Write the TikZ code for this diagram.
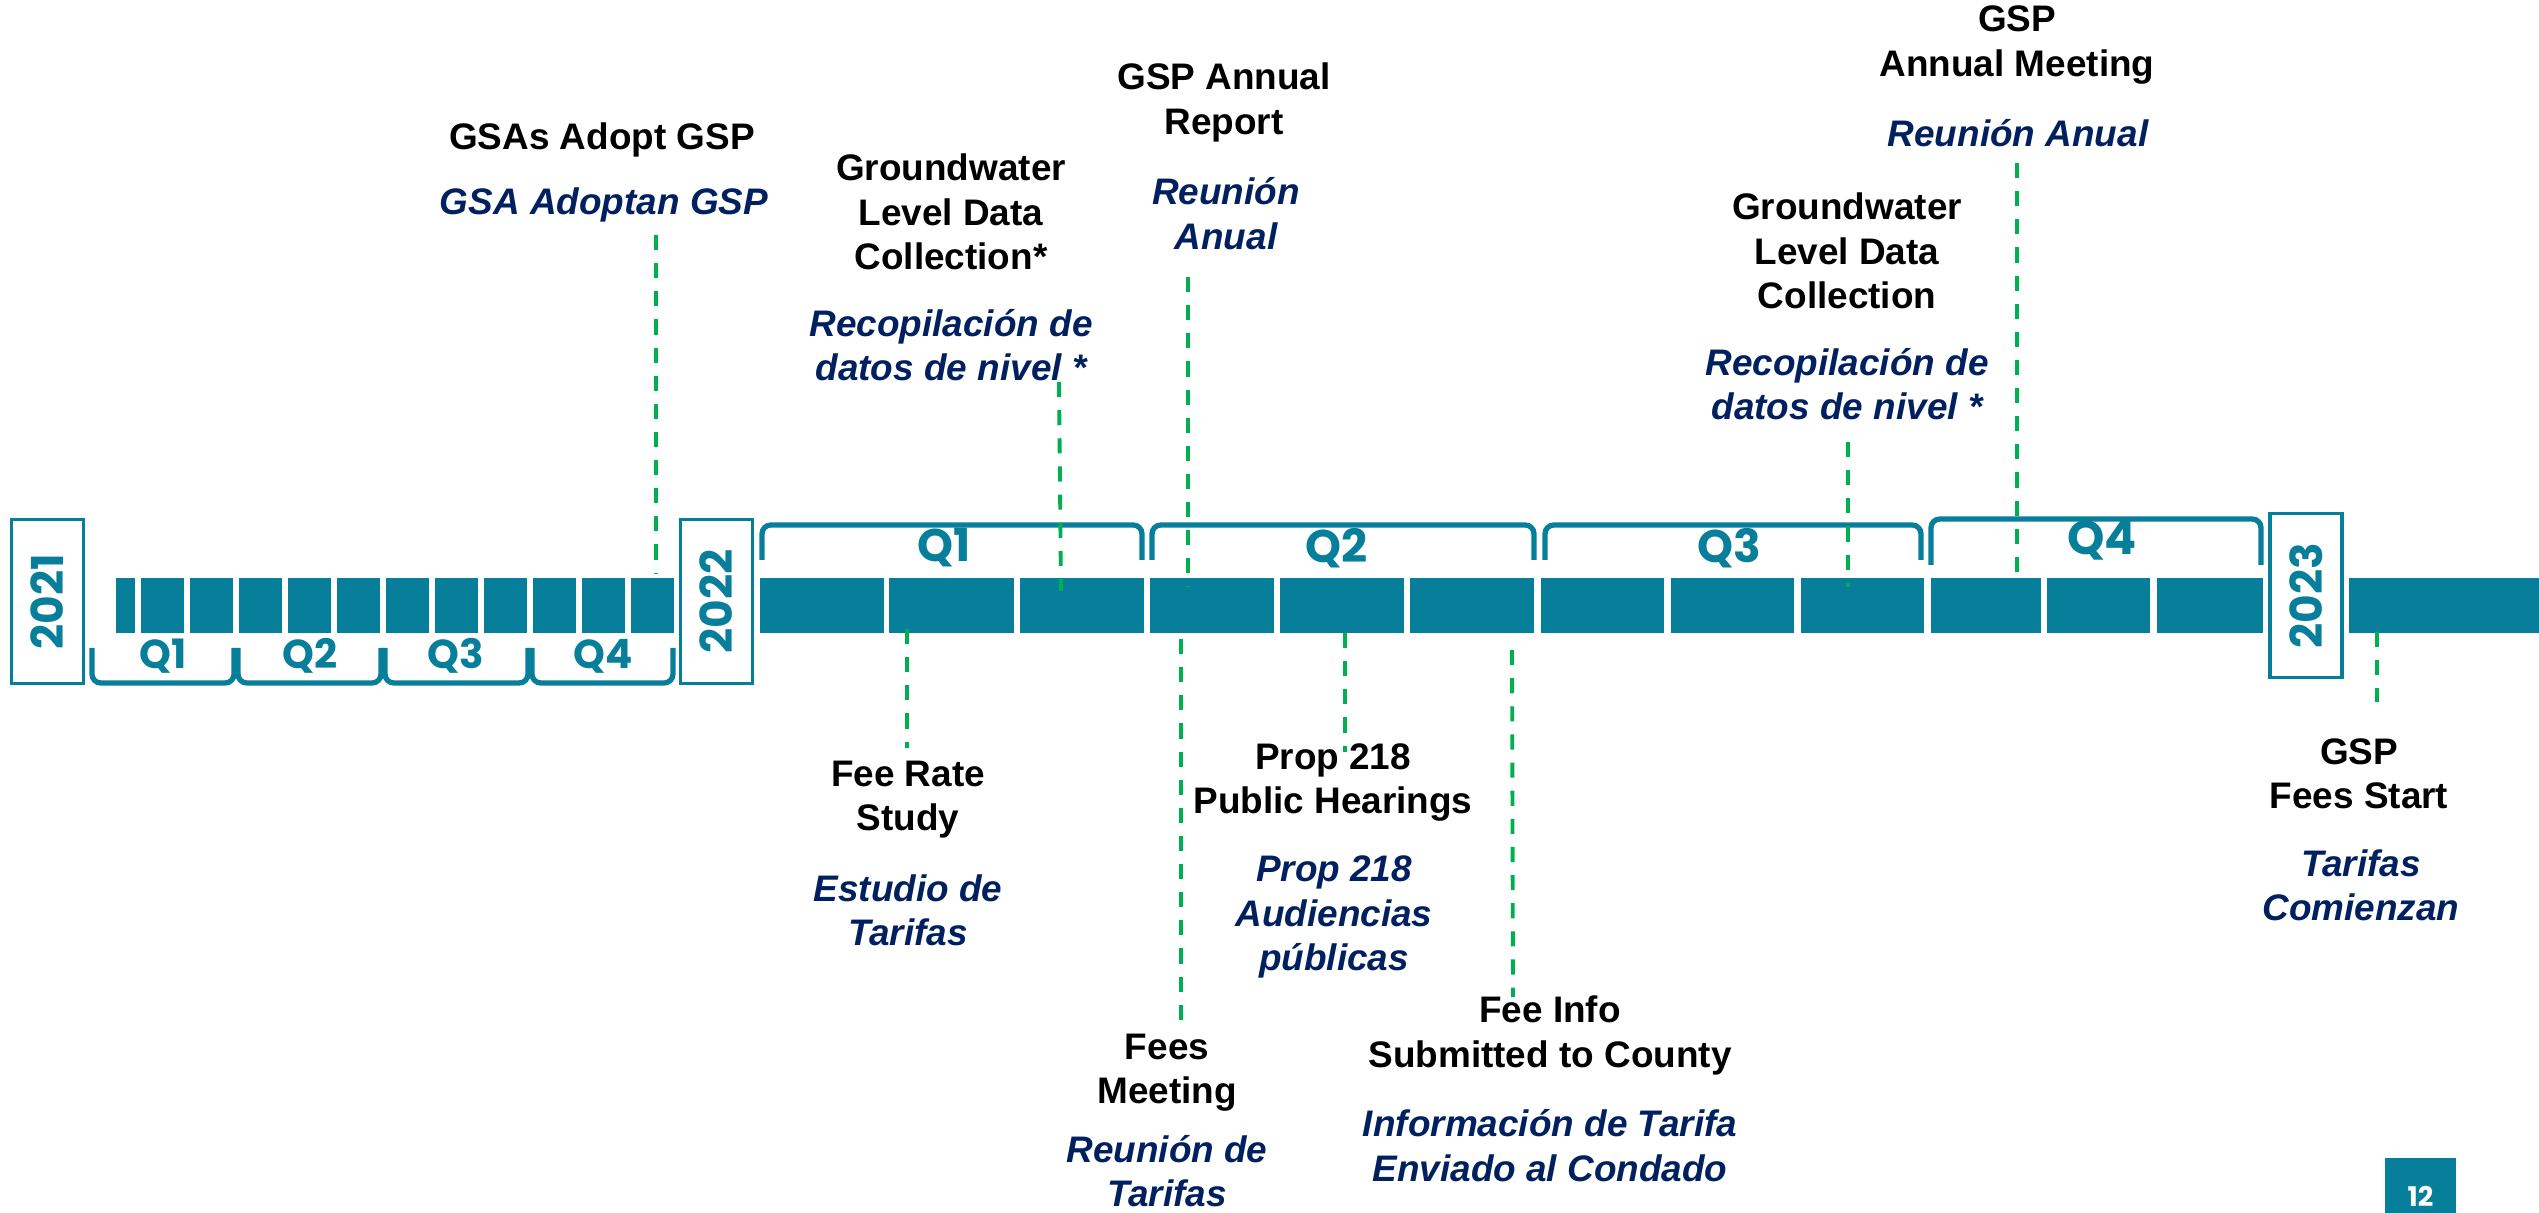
\documentclass[tikz,border=0pt]{standalone}
\usepackage{fontspec}
\setmainfont{Liberation Sans}
\newfontfamily\geofont{Poppins}

\definecolor{tealbar}{RGB}{7,127,155}
\definecolor{navytext}{RGB}{0,32,96}
\definecolor{greentick}{RGB}{0,176,80}

\tikzset{
  bar/.style={fill=tealbar},
  yearbox/.style={draw=tealbar, line width=1pt, fill=white, rotate=90,
    minimum width=1.64cm, minimum height=0.72cm, inner sep=0,
    text=tealbar, font=\geofont\bfseries\fontsize{12.5}{14}\selectfont},
  brace/.style={draw=tealbar, line width=1.5pt, rounded corners=2.5pt},
  quarter/.style={text=tealbar, inner sep=0, font=\geofont\bfseries\fontsize{11.5}{13}\selectfont},
  bigquarter/.style={quarter, font=\geofont\bfseries\fontsize{13}{15}\selectfont},
  eng/.style={align=center, inner sep=0, font=\bfseries\fontsize{10.5}{12.6}\selectfont},
  esp/.style={eng, text=navytext, font=\bfseries\itshape\fontsize{10.5}{12.6}\selectfont},
  tick/.style={draw=greentick, line width=1.1pt, dash pattern=on 4.3pt off 3.7pt},
  pagebox/.style={fill=tealbar, text=white, minimum width=0.71cm, minimum height=0.76cm,
    inner sep=0, font=\geofont\bfseries\fontsize{7.7}{9}\selectfont}
}

\begin{document}
\begin{tikzpicture}[x=0.01cm,y=-0.01cm]
  \clip (0,0) rectangle (2539,1213);

  % months of 2021
  \fill[bar] (116,578) rectangle (135,633);
  \foreach \a in {141,190,...,631}
    \fill[bar] (\a,578) rectangle ++(43,55);

  % months of 2022 and on
  \foreach \a/\b in {760/884, 889/1014, 1020/1144, 1150/1274, 1280/1404, 1410/1534,
                     1541/1664, 1671/1794, 1801/1924, 1931/2041, 2047/2150, 2157/2539}
    \fill[bar] (\a,578) rectangle (\b,633);
  \fill[white] (2263,578) rectangle (2349,633);

  % years
  \node[yearbox] (y2021) at (47.5,601.5)  {2021};
  \node[yearbox] (y2022) at (716.5,601.5) {2022};
  \node[yearbox] (y2023) at (2306,595.5)  {2023};

  % quarters of 2021
  \draw[brace] (92,648)  -- (92,683)  -- (234,683) -- (234,648);
  \draw[brace] (238,648) -- (238,683) -- (381,683) -- (381,648);
  \draw[brace] (385,648) -- (385,683) -- (528,683) -- (528,648);
  \draw[brace] (532,648) -- (532,683) -- (673,683) -- (673,648);
  \node[quarter] (q1a) at (163,656) {Q1};
  \node[quarter] (q2a) at (310,656) {Q2};
  \node[quarter] (q3a) at (456,656) {Q3};
  \node[quarter] (q4a) at (603,656) {Q4};

  % quarters of 2022
  \draw[brace] (762,560)  -- (762,525)  -- (1142,525) -- (1142,560);
  \draw[brace] (1152,560) -- (1152,525) -- (1534,525) -- (1534,560);
  \draw[brace] (1545,560) -- (1545,525) -- (1921,525) -- (1921,560);
  \draw[brace] (1931,565) -- (1931,519) -- (2261,519) -- (2261,565);
  \node[bigquarter] (q1b) at (944,548)  {Q1};
  \node[bigquarter] (q2b) at (1337,548) {Q2};
  \node[bigquarter] (q3b) at (1729,548) {Q3};
  \node[bigquarter, scale=1.04] (q4b) at (2102,540) {Q4};

  % events above the line
  \node[eng] (adopt)  at (602,140) {GSAs Adopt GSP};
  \node[esp] (adoptS) at (604,205) {GSA Adoptan GSP};

  \node[eng] (level)  at (951,212)   {Groundwater\\Level Data\\Collection*};
  \node[esp] (levelS) at (951,345.5) {Recopilación de\\datos de nivel *};

  \node[eng] (report)  at (1224,102.5) {GSP Annual\\Report};
  \node[esp] (reportS) at (1226,213.5) {Reunión\\Anual};

  \node[eng] (level2)  at (1847,251) {Groundwater\\Level Data\\Collection};
  \node[esp] (level2S) at (1847,384) {Recopilación de\\datos de nivel *};

  \node[eng] (meet)  at (2017,45)  {GSP\\Annual Meeting};
  \node[esp] (meetS) at (2018,133) {Reunión Anual};

  % events below the line
  \node[eng] (study)  at (908,799.5) {Fee Rate\\Study};
  \node[esp] (studyS) at (908,910)   {Estudio de\\Tarifas};

  \node[eng] (prop)  at (1333,782.5) {Prop 218\\Public Hearings};
  \node[esp] (propS) at (1334,917)   {Prop 218\\Audiencias\\públicas};

  \node[eng] (fees)  at (1167,1072.5) {Fees\\Meeting};
  \node[esp] (feesS) at (1167,1171)   {Reunión de\\Tarifas};

  \node[eng] (info)  at (1550,1035.5) {Fee Info\\Submitted to County};
  \node[esp] (infoS) at (1550,1145.5) {Información de Tarifa\\Enviado al Condado};

  \node[eng] (start)  at (2359,774) {GSP\\Fees Start};
  \node[esp] (startS) at (2361,885) {Tarifas\\Comienzan};

  % tick ends
  \coordinate (adopt-a)  at (656,235);  \coordinate (adopt-b)  at (656,574);
  \coordinate (level-a)  at (1059,382); \coordinate (level-b)  at (1061,591);
  \coordinate (report-a) at (1188,277); \coordinate (report-b) at (1188,587);
  \coordinate (level2-a) at (1848,442); \coordinate (level2-b) at (1848,587);
  \coordinate (meet-a)   at (2017,163); \coordinate (meet-b)   at (2017,585);
  \coordinate (study-a)  at (907,629);  \coordinate (study-b)  at (907,748);
  \coordinate (fees-a)   at (1181,639); \coordinate (fees-b)   at (1181,1032);
  \coordinate (prop-a)   at (1345,633); \coordinate (prop-b)   at (1345,752);
  \coordinate (info-a)   at (1512,650); \coordinate (info-b)   at (1513,997);
  \coordinate (start-a)  at (2377,632); \coordinate (start-b)  at (2377,702);

  \draw[tick] (adopt-a)  -- (adopt-b);
  \draw[tick] (level-a)  -- (level-b);
  \draw[tick] (report-a) -- (report-b);
  \draw[tick] (level2-a) -- (level2-b);
  \draw[tick] (meet-a)   -- (meet-b);
  \draw[tick] (study-a)  -- (study-b);
  \draw[tick] (fees-a)   -- (fees-b);
  \draw[tick] (prop-a)   -- (prop-b);
  \draw[tick] (info-a)   -- (info-b);
  \draw[tick] (start-a)  -- (start-b);

  % page number
  \node[pagebox] (page) at (2420.5,1196) {12};
\end{tikzpicture}
\end{document}
